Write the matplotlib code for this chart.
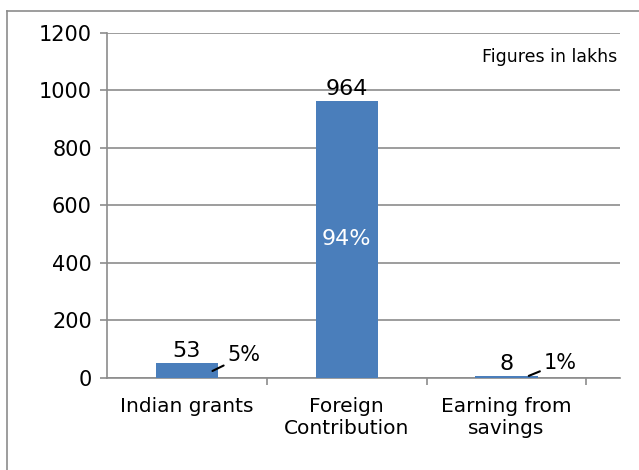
import matplotlib
matplotlib.use('Agg')
import matplotlib.pyplot as plt
from matplotlib.lines import Line2D

categories = ['Indian grants', 'Foreign\nContribution', 'Earning from\nsavings']
amounts = [53, 964, 8]
shares = ['5%', '94%', '1%']
yticks = [0, 200, 400, 600, 800, 1000, 1200]

blue = '#4a7ebb'
grey = '#8c8c8c'
plt.rcParams['font.family'] = 'DejaVu Sans'

fig = plt.figure(figsize=(6.39, 4.70), dpi=100)
ax = fig.add_axes([0.1675, 0.196, 0.8025, 0.734])

x = list(range(len(categories)))
bars = ax.bar(x, amounts, width=0.39, color=blue, zorder=3)

ax.set_ylim(0, 1200)
ax.set_xlim(-0.5, 2.71)
ax.set_yticks(yticks)
ax.set_yticklabels([str(v) for v in yticks], fontsize=15)
ax.yaxis.grid(True, color=grey, linewidth=1.2)
ax.set_axisbelow(True)

# category labels sit in between boundary ticks
ax.set_xticks([0.5, 1.5, 2.5])
ax.set_xticklabels([])
ax.set_xticks(x, minor=True)
ax.set_xticklabels(categories, minor=True, fontsize=14.5, linespacing=1.2)
ax.tick_params(axis='x', which='minor', length=0, pad=14)
ax.tick_params(axis='x', which='major', length=5, color=grey, width=1.2)
ax.tick_params(axis='y', length=5, color=grey, width=1.2, pad=6)

for s in ['top', 'right']:
    ax.spines[s].set_visible(False)
for s in ['left', 'bottom']:
    ax.spines[s].set_color(grey)
    ax.spines[s].set_linewidth(1.2)

# value labels on top of the bars
for xi, v in zip(x, amounts):
    ax.annotate(str(v), (xi, v), xytext=(0, 1), textcoords='offset points',
                ha='center', va='bottom', fontsize=16)

# percentages: inside the big bar, leader lines for the small ones
ax.text(1, amounts[1] / 2, shares[1], color='white', ha='center', va='center', fontsize=16)
ax.annotate(shares[0], (0.16, 24), xytext=(0.255, 78), ha='left', va='center', fontsize=15,
            arrowprops=dict(arrowstyle='-', color='black', lw=1.5, shrinkA=1, shrinkB=0))
ax.annotate(shares[2], (2.14, 7), xytext=(2.235, 52), ha='left', va='center', fontsize=15,
            arrowprops=dict(arrowstyle='-', color='black', lw=1.5, shrinkA=1, shrinkB=0))

ax.text(0.995, 0.93, 'Figures in lakhs', transform=ax.transAxes, ha='right', va='center', fontsize=12.5)

# outer chart frame (top and left edges visible)
fig.add_artist(Line2D([7 / 639, 1.0], [1 - 11 / 470, 1 - 11 / 470], transform=fig.transFigure, color=grey, lw=1.2))
fig.add_artist(Line2D([7 / 639, 7 / 639], [0.0, 1 - 11 / 470], transform=fig.transFigure, color=grey, lw=1.2))

fig.savefig('out.png', dpi=100)
